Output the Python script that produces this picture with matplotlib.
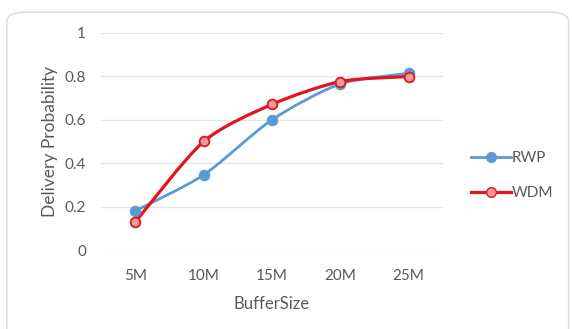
import matplotlib.pyplot as plt
import numpy as np
from matplotlib.path import Path
from matplotlib.patches import PathPatch, FancyBboxPatch
from matplotlib.lines import Line2D

plt.rcParams['font.family'] = ['Lato', 'DejaVu Sans']

buffer_sizes = ['5M', '10M', '15M', '20M', '25M']
rwp = [0.181, 0.346, 0.60, 0.765, 0.814]
wdm = [0.13, 0.50, 0.671, 0.776, 0.799]

blue = '#5B9BD5'
red = '#E2141E'
grey = '#595959'


def smooth_path(xs, ys, tension=0.13):
    # cubic Bezier through every point, spreadsheet-style smoothed line
    pts = np.column_stack([xs, ys]).astype(float)
    verts = [pts[0]]
    codes = [Path.MOVETO]
    n = len(pts)
    for i in range(n - 1):
        p0 = pts[max(i - 1, 0)]
        p1 = pts[i]
        p2 = pts[i + 1]
        p3 = pts[min(i + 2, n - 1)]
        c1 = p1 + (p2 - p0) * tension
        c2 = p2 - (p3 - p1) * tension
        verts += [c1, c2, p2]
        codes += [Path.CURVE4] * 3
    return Path(verts, codes)


fig = plt.figure(figsize=(5.72, 3.29), dpi=100)
fig.patch.set_facecolor('white')
frame = FancyBboxPatch((0.012, -0.05), 0.982, 1.013,
                       boxstyle='round,pad=0,rounding_size=0.03',
                       transform=fig.transFigure, facecolor='white',
                       edgecolor='#D9D9D9', linewidth=1.0, zorder=-10)
fig.patches.append(frame)

ax = fig.add_axes([0.177, 0.24, 0.597, 0.66])
ax.set_facecolor('none')
x = np.arange(len(buffer_sizes))

for ys, col, face in [(rwp, blue, blue), (wdm, red, '#F19A9A')]:
    ax.add_patch(PathPatch(smooth_path(x, ys), facecolor='none',
                           edgecolor=col, lw=2.3 if col == red else 2.0,
                           capstyle='round', joinstyle='round', zorder=3))
    ax.plot(x, ys, ls='none', marker='o', ms=7, mfc=face, mec=col,
            mew=1.3, zorder=4)

ax.set_xlim(-0.5, len(buffer_sizes) - 0.5)
ax.set_ylim(0, 1)
ax.set_yticks([0, 0.2, 0.4, 0.6, 0.8, 1])
ax.set_yticklabels(['0', '0.2', '0.4', '0.6', '0.8', '1'])
ax.set_xticks(x)
ax.set_xticklabels(buffer_sizes)
ax.grid(axis='y', color='#E3E3E3', lw=0.9)
ax.set_axisbelow(True)
for s in ax.spines.values():
    s.set_visible(False)
ax.tick_params(length=0, colors=grey, labelsize=11, pad=14)
ax.tick_params(axis='y', pad=11)

ax.set_xlabel('BufferSize', color=grey, fontsize=12, labelpad=9)
ax.set_ylabel('Delivery Probability', color=grey, fontsize=12.5, labelpad=5)

handles = [
    Line2D([], [], color=blue, lw=2.0, marker='o', ms=7, mfc=blue, mec=blue),
    Line2D([], [], color=red, lw=2.3, marker='o', ms=7, mfc='#F19A9A', mec=red),
]
fig.legend(handles, ['RWP', 'WDM'], loc='center left',
           bbox_to_anchor=(0.8, 0.466), frameon=False, fontsize=11,
           labelcolor=grey, handlelength=2.6, handletextpad=0.05,
           labelspacing=1.4)

fig.savefig('out.png', dpi=100)
